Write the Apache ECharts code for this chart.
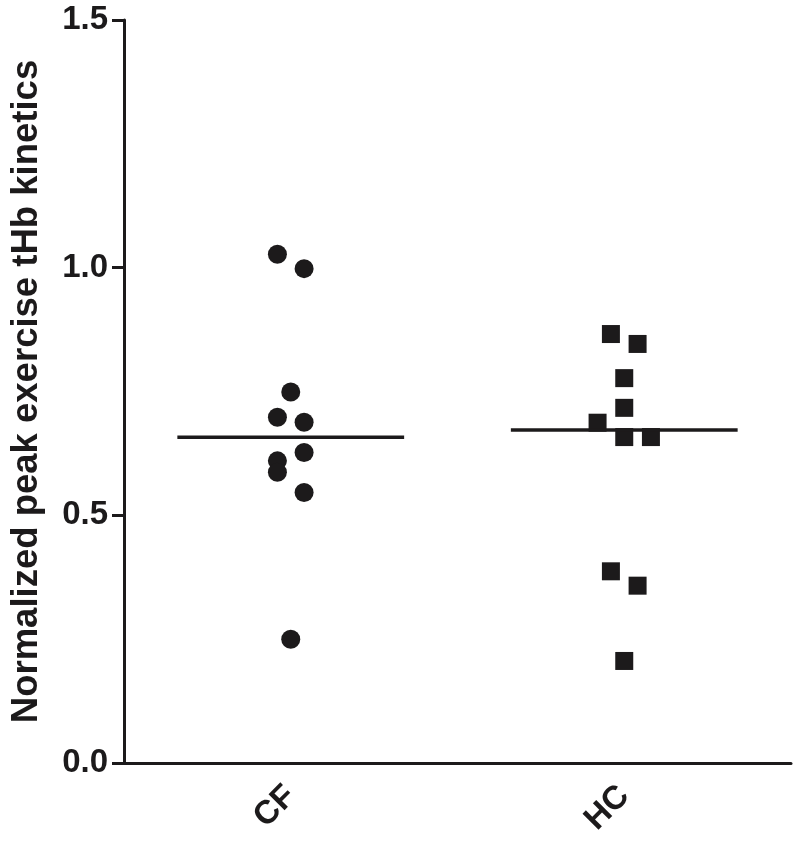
<!DOCTYPE html>
<html>
<head>
<meta charset="utf-8">
<script src="https://cdn.jsdelivr.net/npm/echarts@6/dist/echarts.min.js"></script>
<style>
  html, body { margin: 0; padding: 0; background: #fff; }
  #chart { width: 800px; height: 851px; }
</style>
</head>
<body>
<div id="chart"></div>
<script>
  // groups and y ticks
  const categories = ['CF', 'HC'];
  const yTicks = [0, 0.5, 1.0, 1.5];

  // CF (circles) values, with horizontal jitter (in category units)
  const cfValues = [1.027, 0.998, 0.749, 0.698, 0.688, 0.627, 0.610, 0.587, 0.546, 0.250];
  const cfJitter = [-0.04, 0.04, 0, -0.04, 0.04, 0.04, -0.04, -0.04, 0.04, 0];

  // HC (squares)
  const hcValues = [0.866, 0.846, 0.777, 0.717, 0.687, 0.658, 0.658, 0.387, 0.358, 0.206];
  const hcJitter = [-0.04, 0.04, 0, 0, -0.08, 0, 0.08, -0.04, 0.04, 0];

  const ink = '#1c1a1b';
  const font = '"Liberation Sans", Arial, sans-serif';

  function median(arr) {
    const s = arr.slice().sort((a, b) => a - b);
    const m = Math.floor(s.length / 2);
    return s.length % 2 ? s[m] : (s[m - 1] + s[m]) / 2;
  }

  // group i sits at i + 0.5 on the hidden value axis
  function points(values, jitter, idx) {
    return values.map((v, i) => [idx + 0.5 + jitter[i], v]);
  }
  function medianLine(values, idx) {
    const m = median(values);
    return [[idx + 0.5 - 0.34, m], [idx + 0.5 + 0.34, m]];
  }

  const chart = echarts.init(document.getElementById('chart'));
  chart.setOption({
    backgroundColor: '#fff',
    animation: false,
    grid: { left: 120, right: 9, top: 20, bottom: 88 },
    xAxis: [
      {
        type: 'category',
        data: categories,
        boundaryGap: true,
        axisLine: { lineStyle: { color: ink, width: 3 } },
        axisTick: { alignWithLabel: true, length: 12, lineStyle: { color: ink, width: 3 } },
        axisLabel: {
          rotate: 45, margin: 28,
          color: ink, fontFamily: font, fontWeight: 'bold', fontSize: 33
        },
        splitLine: { show: false }
      },
      {
        type: 'value', min: 0, max: 2, show: false
      }
    ],
    yAxis: {
      type: 'value',
      min: 0, max: 1.5, interval: 0.5,
      name: 'Normalized peak exercise tHb kinetics',
      nameLocation: 'middle',
      nameGap: 79,
      nameTextStyle: { color: ink, fontFamily: font, fontWeight: 'bold', fontSize: 36.5 },
      axisLine: { show: true, lineStyle: { color: ink, width: 3 } },
      axisTick: { show: true, length: 12, lineStyle: { color: ink, width: 3 } },
      axisLabel: {
        margin: 16,
        color: ink, fontFamily: font, fontWeight: 'bold', fontSize: 33,
        formatter: v => yTicks.indexOf(v) >= 0 ? v.toFixed(1) : ''
      },
      splitLine: { show: false }
    },
    series: [
      {
        name: 'CF',
        type: 'scatter',
        xAxisIndex: 1,
        symbol: 'circle',
        symbolSize: 19,
        itemStyle: { color: ink, opacity: 1 },
        data: points(cfValues, cfJitter, 0)
      },
      {
        name: 'HC',
        type: 'scatter',
        xAxisIndex: 1,
        symbol: 'rect',
        symbolSize: 18,
        itemStyle: { color: ink, opacity: 1 },
        data: points(hcValues, hcJitter, 1)
      },
      {
        type: 'line',
        xAxisIndex: 1,
        symbol: 'none',
        lineStyle: { color: ink, width: 3.5 },
        data: medianLine(cfValues, 0),
        z: 3
      },
      {
        type: 'line',
        xAxisIndex: 1,
        symbol: 'none',
        lineStyle: { color: ink, width: 3.5 },
        data: medianLine(hcValues, 1),
        z: 3
      }
    ]
  });
</script>
</body>
</html>
